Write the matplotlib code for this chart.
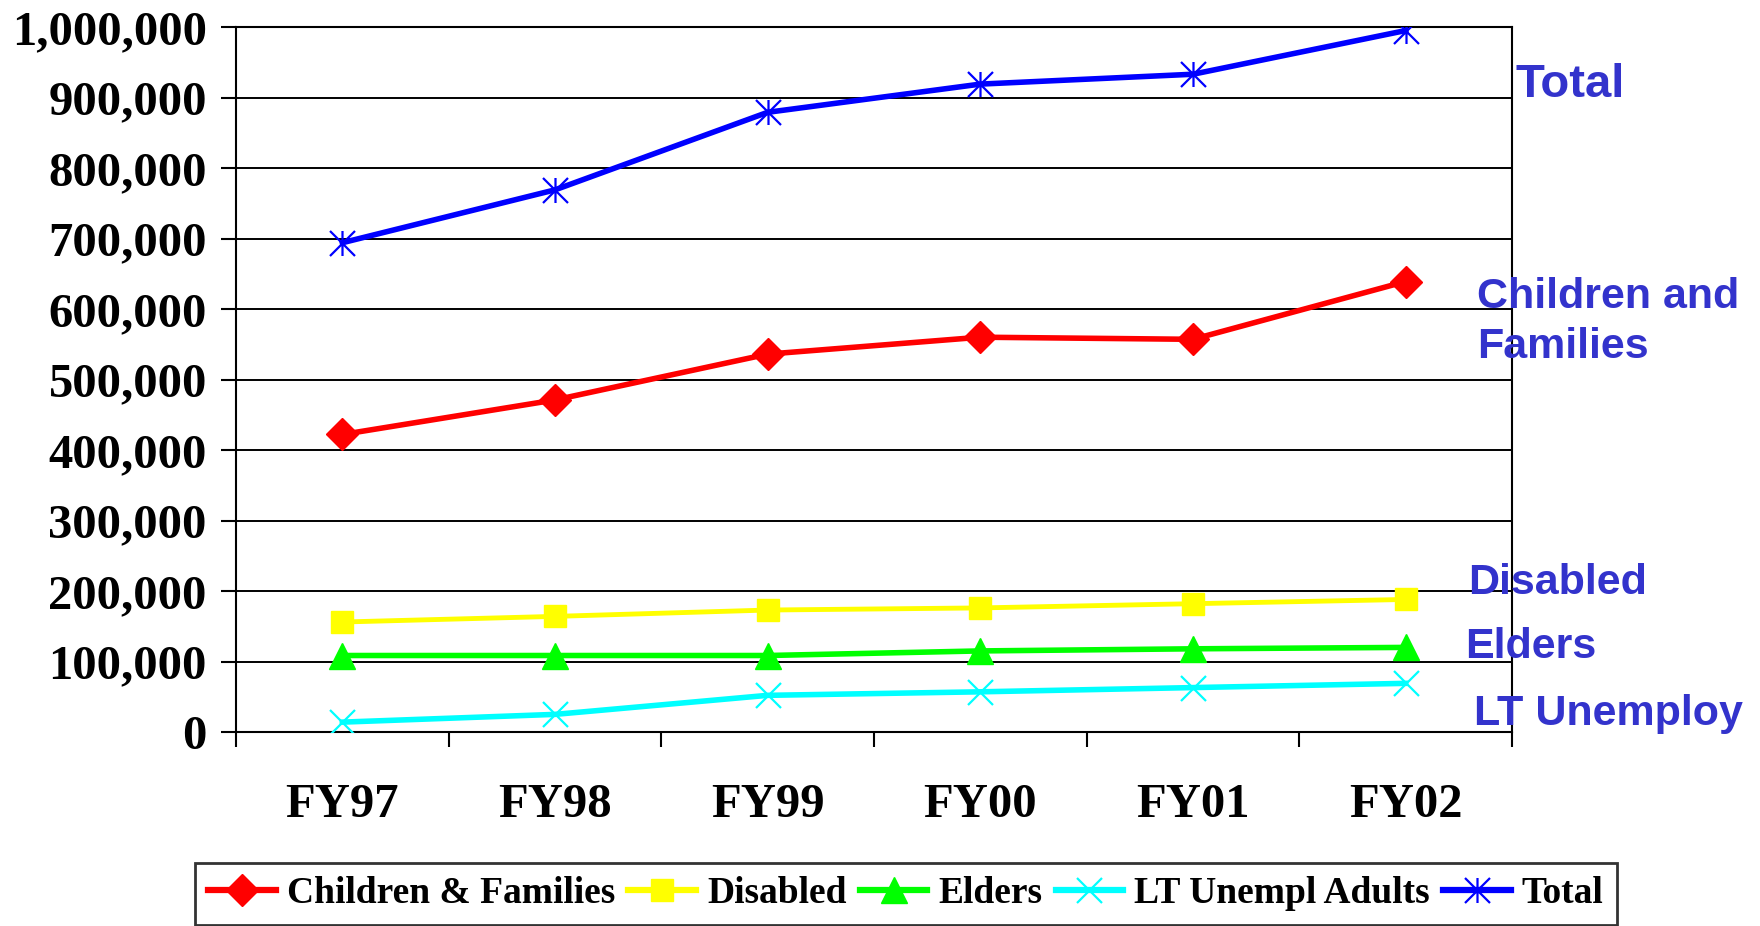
import matplotlib
matplotlib.use('Agg')
import matplotlib.pyplot as plt
from matplotlib.path import Path
from matplotlib.ticker import FuncFormatter, FixedLocator

# ---- data ----
categories = ['FY97', 'FY98', 'FY99', 'FY00', 'FY01', 'FY02']
children = [422000, 471000, 536000, 560000, 557000, 639000]
disabled = [156000, 164000, 173000, 176000, 182000, 188000]
elders = [108500, 108500, 108500, 115000, 118000, 120000]
lt_unempl = [14000, 25000, 52000, 57000, 63000, 69000]
total = [694000, 769000, 879000, 919000, 933000, 995000]
series_names = ['Children & Families', 'Disabled', 'Elders', 'LT Unempl Adults', 'Total']
y_ticks = list(range(0, 1000001, 100000))
side_labels = ['Total', 'Children and\nFamilies', 'Disabled', 'Elders', 'LT Unemploy']

# ---- styles ----
serif = ['Liberation Serif', 'DejaVu Serif']
sans = ['Liberation Sans', 'DejaVu Sans']
star = Path([(0, -1), (0, 1), (-1, -1), (1, 1), (-1, 1), (1, -1)],
            [Path.MOVETO, Path.LINETO, Path.MOVETO, Path.LINETO, Path.MOVETO, Path.LINETO])

fig = plt.figure(figsize=(17.6, 9.26), dpi=100)
ax = fig.add_axes([236 / 1760, 1 - 732 / 926, (1512 - 236) / 1760, (732 - 27) / 926])

x = list(range(len(categories)))
lw = 4.0
ax.plot(x, children, color='#FF0000', lw=lw, marker='D', ms=16, mec='#FF0000', label=series_names[0], zorder=5)
ax.plot(x, disabled, color='#FFFF00', lw=3.5, marker='s', ms=16, mec='#FFFF00', label=series_names[1], zorder=5)
ax.plot(x, elders, color='#00FF00', lw=lw, marker='^', ms=19, mec='#00FF00', label=series_names[2], zorder=5)
ax.plot(x, lt_unempl, color='#00FFFF', lw=lw, marker='x', ms=18, mew=1.6, mec='#00FFFF', label=series_names[3], zorder=5)
ax.plot(x, total, color='#0000FF', lw=lw, marker=star, ms=18, mew=1.6, mec='#0000FF', label=series_names[4], zorder=5)

ax.set_xlim(-0.5, len(categories) - 0.5)
ax.set_ylim(0, 1000000)

ax.set_xticks(x)
ax.set_xticklabels(categories)
ax.xaxis.set_minor_locator(FixedLocator([i - 0.5 for i in range(len(categories) + 1)]))
ax.tick_params(axis='x', which='major', length=0, pad=37)
ax.tick_params(axis='x', which='minor', length=11, width=1.5, direction='out', color='black')
ax.set_yticks(y_ticks)
ax.yaxis.set_major_formatter(FuncFormatter(lambda v, p: f'{int(v):,}'))
ax.tick_params(axis='y', length=11, width=1.5, direction='out', pad=10, color='black')

for lab in ax.get_xticklabels() + ax.get_yticklabels():
    lab.set_fontfamily(serif)
    lab.set_fontweight('bold')
    lab.set_fontsize(35)

ax.yaxis.grid(True, color='black', lw=1.4)
ax.set_axisbelow(True)
for s in ['left', 'right', 'top', 'bottom']:
    ax.spines[s].set_color('black')
    ax.spines[s].set_linewidth(1.5)

leg = fig.legend(loc='lower center', bbox_to_anchor=(906 / 1760, 0.0015), ncol=5,
                 prop={'family': serif, 'weight': 'bold', 'size': 27},
                 frameon=True, fancybox=False, edgecolor='black', handlelength=1.8,
                 handletextpad=0.3, columnspacing=0.35, borderpad=0.35, borderaxespad=0)
leg.get_frame().set_linewidth(2)
for h in leg.legend_handles:
    h.set_linewidth(4.5)

side_pos = [(1515, 85), (1477, 322), (1468, 583), (1465, 647), (1474, 714)]
side_sizes = [34, 31, 31, 31, 31]
for txt, (px, py), fs in zip(side_labels, side_pos, side_sizes):
    fig.text(px / 1760, 1 - py / 926, txt, ha='left', va='center', color='#3333CC',
             family=sans, weight='bold', fontsize=fs, linespacing=1.3)

fig.savefig('out.png', dpi=100)
